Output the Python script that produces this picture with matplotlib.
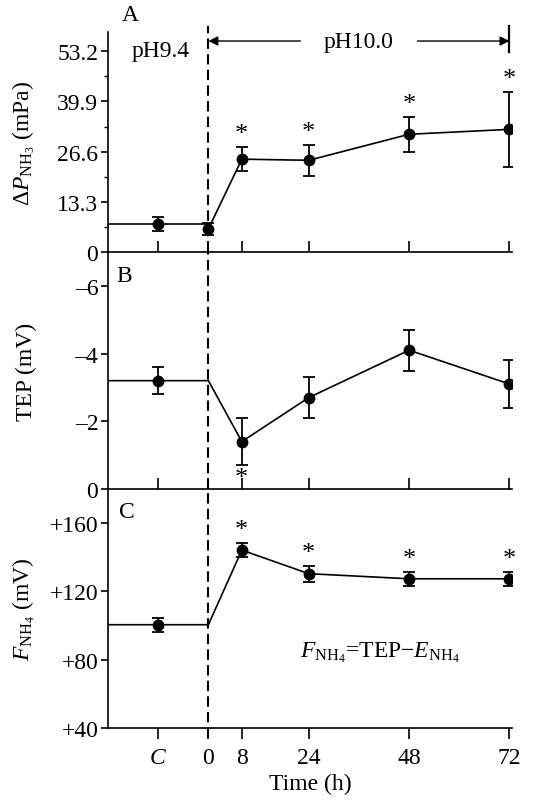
import matplotlib
matplotlib.use('Agg')
import matplotlib.pyplot as plt
from matplotlib.ticker import FixedLocator, MultipleLocator

plt.rcParams['font.family'] = ['Liberation Serif', 'DejaVu Serif']
plt.rcParams['font.size'] = 17
plt.rcParams['mathtext.fontset'] = 'custom'
plt.rcParams['mathtext.rm'] = 'Liberation Serif'
plt.rcParams['mathtext.it'] = 'Liberation Serif:italic'
plt.rcParams['mathtext.bf'] = 'Liberation Serif:bold'

# ---------------- data ----------------
x_ticks = [-12, 0, 8, 24, 48, 72]
x_ticklabels = ['$C$', '0', '8', '24', '48', '72']

a_x = [-12, 0, 8, 24, 48, 72]
a_y = [7.4, 6.1, 24.6, 24.3, 31.2, 32.5]
a_err = [1.8, 1.5, 3.2, 4.1, 4.6, 10.0]
a_sig = [8, 24, 48, 72]
a_yticks = [0, 13.3, 26.6, 39.9, 53.2]
a_yticklabels = ['0', '13.3', '26.6', '39.9', '53.2']

b_x = [-12, 8, 24, 48, 72]
b_y = [-3.2, -1.4, -2.7, -4.1, -3.1]
b_err = [0.4, 0.7, 0.6, 0.6, 0.7]
b_sig = [8]
b_yticks = [0, -2, -4, -6]
b_yticklabels = ['0', '\u20132', '\u20134', '\u20136']

c_x = [-12, 8, 24, 48, 72]
c_y = [100.5, 144.2, 130.4, 127.4, 127.4]
c_err = [4.0, 4.0, 4.7, 4.0, 4.0]
c_sig = [8, 24, 48, 72]
c_yticks = [40, 80, 120, 160]
c_yticklabels = ['+40', '+80', '+120', '+160']

XMIN, XMAX = -24, 72.6
LW = 1.2

fig = plt.figure(figsize=(5.36, 8.03), dpi=100)
W, H = 536, 803
def rect(top, bottom, left=108, right=512):
    return [left / W, 1 - bottom / H, (right - left) / W, (bottom - top) / H]

axA = fig.add_axes(rect(33, 253))
axB = fig.add_axes(rect(253, 490))
axC = fig.add_axes(rect(490, 729))

for ax in (axA, axB, axC):
    ax.set_xlim(XMIN, XMAX)
    for s in ('top', 'right'):
        ax.spines[s].set_visible(False)
    for s in ('left', 'bottom'):
        ax.spines[s].set_linewidth(LW)
    ax.xaxis.set_major_locator(FixedLocator(x_ticks))
    ax.tick_params(axis='y', direction='out', length=5, width=LW, pad=2)
    ax.patch.set_alpha(0)

axA.tick_params(axis='x', direction='in', length=8, width=LW, labelbottom=False)
axB.tick_params(axis='x', direction='in', length=8, width=LW, labelbottom=False)
axC.tick_params(axis='x', direction='out', length=8, width=LW, pad=6)
axC.set_xticklabels(x_ticklabels)
axC.set_xlabel('Time (h)', labelpad=3)

ebkw = dict(fmt='o', color='black', ms=7.5, capsize=4.3, elinewidth=1.3,
            capthick=1.3, zorder=4)
lkw = dict(color='black', lw=1.2, zorder=3)
DASH = (0, (5, 2.5))

def stars_above(ax, xs, xdata, ydata, err, off=1.5):
    for x in xs:
        i = xdata.index(x)
        ax.annotate('*', (x, ydata[i] + err[i]), xytext=(0, off),
                    textcoords='offset points', ha='center', va='bottom', fontsize=19)

# ---------------- panel A ----------------
axA.set_ylim(0, 58.3)
axA.yaxis.set_major_locator(FixedLocator(a_yticks))
axA.set_yticklabels(a_yticklabels)
axA.yaxis.set_minor_locator(MultipleLocator(6.65))
axA.tick_params(axis='y', which='minor', direction='out', length=3, width=1.0)
axA.plot([XMIN, 0], [a_y[0], a_y[0]], **lkw)
axA.plot(a_x[1:], a_y[1:], **lkw)
axA.errorbar(a_x, a_y, yerr=a_err, **ebkw)
stars_above(axA, a_sig, a_x, a_y, a_err)
axA.set_ylabel(r'$\Delta P_{\mathrm{NH_3}}$ (mPa)')
axA.yaxis.set_label_coords(-0.175, 0.5)
axA.text(0.054, 1.08, 'A', transform=axA.transAxes, ha='center', va='center')
axA.text(0.13, 0.915, 'pH9.4', transform=axA.transAxes, ha='center', va='center')
xt = axA.get_xaxis_transform()
axA.text(36, 0.959, 'pH10.0', transform=xt, ha='center', va='center')
akw = dict(arrowstyle='-|>', color='black', lw=1.0, mutation_scale=14,
           shrinkA=0, shrinkB=0)
axA.annotate('', xy=(0, 0.959), xytext=(22, 0.959), xycoords=xt,
             textcoords=xt, arrowprops=akw, annotation_clip=False)
axA.annotate('', xy=(72, 0.959), xytext=(50, 0.959), xycoords=xt,
             textcoords=xt, arrowprops=akw, annotation_clip=False)
axA.plot([72, 72], [0.909, 1.027], transform=xt,
         color='black', lw=1.6, clip_on=False)
axA.plot([0, 0], [0, 1.027], transform=xt,
         color='black', lw=1.5, ls=DASH, clip_on=False, zorder=2)

# ---------------- panel B ----------------
axB.set_ylim(0, -7)
axB.yaxis.set_major_locator(FixedLocator(b_yticks))
axB.set_yticklabels(b_yticklabels)
axB.plot([XMIN, 0] + b_x[1:], [b_y[0], b_y[0]] + b_y[1:], **lkw)
axB.errorbar(b_x, b_y, yerr=b_err, **ebkw)
for x in b_sig:
    i = b_x.index(x)
    axB.annotate('*', (x, b_y[i] + b_err[i]), xytext=(0, -1), textcoords='offset points',
                 ha='center', va='top', fontsize=19)
axB.set_ylabel('TEP (mV)')
axB.yaxis.set_label_coords(-0.175, 0.5)
axB.text(0.04, 0.9, 'B', transform=axB.transAxes, ha='center', va='center')
axB.axvline(0, color='black', lw=1.5, ls=DASH, zorder=2)

# ---------------- panel C ----------------
axC.set_ylim(40, 180)
axC.yaxis.set_major_locator(FixedLocator(c_yticks))
axC.set_yticklabels(c_yticklabels)
axC.plot([XMIN, 0] + c_x[1:], [c_y[0], c_y[0]] + c_y[1:], **lkw)
axC.errorbar(c_x, c_y, yerr=c_err, **ebkw)
stars_above(axC, c_sig, c_x, c_y, c_err)
axC.set_ylabel(r'$F_{\mathrm{NH_4}}$ (mV)')
axC.yaxis.set_label_coords(-0.175, 0.5)
axC.text(0.047, 0.904, 'C', transform=axC.transAxes, ha='center', va='center')
axC.text(41, 84.5, r'$F_{\mathrm{NH_4}}$=TEP$-$$E_{\mathrm{NH_4}}$', ha='center', va='center')
axC.plot([0, 0], [-0.04, 1], transform=axC.get_xaxis_transform(),
         color='black', lw=1.5, ls=DASH, clip_on=False, zorder=2)

fig.savefig('out.png', dpi=100)
